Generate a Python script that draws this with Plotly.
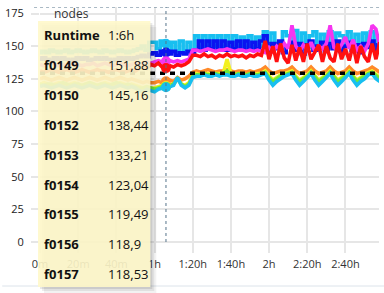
import plotly.graph_objects as go

# ---------------- data ----------------
minutes = list(range(0, 180, 2))          # time axis (minutes)
hover_minute = 66                          # 1:06h, hovered position
target_level = 129.2                       # black dashed reference level

x_tickvals = [0, 20, 40, 60, 80, 100, 120, 140, 160]
x_ticktext = ["0m", "20m", "40m", "1h", "1:20h", "1:40h", "2h", "2:20h", "2:40h"]
y_tickvals = [0, 25, 50, 75, 100, 125, 150, 175]

series_names = ["f0149", "f0150", "f0152", "f0153", "f0154", "f0155", "f0156", "f0157"]

f0149 = [145, 146, 145, 147, 146, 145, 146, 147, 145, 146, 147, 146, 145, 146, 147, 146, 145, 147, 146, 145,
         146, 147, 146, 145, 146, 147, 148, 150, 147, 153,
         153, 148, 154, 151.88, 146, 153, 146, 154, 146, 153, 147,
         158, 149, 158, 149, 158, 150, 158, 149, 158, 149, 158, 149, 157, 149, 158, 149, 157, 150,
         161, 150, 160, 152, 149, 161, 158, 150, 162, 151, 160, 149, 158, 161, 150, 159, 152, 161, 149, 160,
         158, 150, 161, 151, 159, 149, 160, 152, 161, 150, 158]
f0150 = [140, 141, 140, 139, 141, 140, 141, 140, 139, 140, 141, 140, 141, 139, 140, 141, 140, 141, 140, 139,
         140, 141, 140, 141, 140, 141, 142, 143, 142, 144,
         145, 143, 146, 145.16, 144, 146, 143, 145, 144, 146, 145,
         147, 154, 147, 154, 148, 154, 147, 154, 147, 153, 148, 154, 147, 154, 147, 153, 148, 154,
         158, 146, 152, 148, 154, 145, 150, 153, 147, 152, 144, 151, 154, 147, 150, 153, 146, 152, 148, 154,
         146, 150, 153, 147, 151, 145, 152, 149, 154, 147, 151]
f0152 = [136, 135, 136, 137, 136, 135, 136, 135, 136, 137, 136, 135, 136, 136, 137, 135, 136, 137, 136, 135,
         136, 137, 136, 135, 136, 137, 136, 137, 138, 137,
         138, 139, 138, 138.44, 139, 138, 139, 138, 139, 140, 147,
         147, 146, 147, 148, 147, 146, 147, 147, 148, 147, 146, 147, 147, 146, 147, 146, 147, 146,
         145, 149, 146, 150, 147, 152, 148, 166, 150, 146, 151, 147, 153, 146, 150, 148, 152, 166, 149, 147,
         151, 157, 148, 155, 147, 150, 146, 152, 166, 163, 150]
f0153 = [131, 130, 131, 132, 131, 130, 131, 132, 131, 130, 131, 132, 131, 130, 131, 132, 131, 131, 130, 131,
         132, 131, 130, 131, 132, 131, 133, 134, 133, 136,
         135, 137, 134, 133.21, 135, 134, 136, 135, 136, 138, 143,
         143, 142, 144, 142, 143, 141, 143, 142, 144, 142, 143, 142, 143, 141, 143, 142, 144, 143,
         154, 140, 150, 138, 152, 141, 137, 151, 139, 149, 138, 152, 140, 146, 151, 138, 150, 141, 138, 152,
         140, 148, 139, 151, 137, 150, 142, 138, 152, 140, 153]
f0154 = [125, 126, 125, 124, 125, 126, 125, 124, 125, 126, 125, 124, 125, 126, 125, 124, 125, 126, 125, 124,
         125, 126, 125, 124, 125, 124, 123, 122, 123, 122,
         122, 123, 122, 123.04, 124, 123, 126, 124, 125, 127, 130,
         131, 130, 131, 132, 131, 130, 131, 131, 132, 131, 130, 131, 131, 130, 131, 130, 131, 132,
         134, 131, 129, 130, 131, 131, 132, 134, 131, 129, 130, 131, 134, 131, 129, 130, 131, 134, 131, 129,
         130, 131, 134, 131, 129, 130, 131, 132, 134, 132, 130]
f0155 = [121, 122, 121, 120, 121, 122, 121, 120, 121, 122, 121, 120, 121, 122, 121, 120, 121, 122, 121, 120,
         121, 122, 121, 120, 121, 120, 119, 118, 119, 118,
         118, 119, 120, 119.49, 120, 121, 125, 121, 120, 122, 127,
         129, 128, 129, 129, 128, 129, 129, 129, 140, 129, 128, 129, 129, 128, 129, 128, 129, 129,
         131, 127, 124, 126, 128, 129, 130, 131, 127, 124, 126, 128, 131, 127, 124, 126, 128, 131, 127, 124,
         126, 128, 131, 127, 124, 126, 128, 130, 131, 128, 126]
f0156 = [121, 120, 121, 121, 120, 121, 122, 121, 120, 121, 121, 120, 121, 122, 121, 120, 121, 121, 120, 121,
         122, 121, 120, 121, 120, 119, 118, 118, 119, 118,
         117, 118, 119, 118.9, 120, 121, 125, 121, 119, 121, 127,
         128, 128, 129, 128, 128, 129, 128, 129, 131, 128, 128, 129, 128, 128, 129, 128, 128, 129,
         130, 126, 123, 125, 127, 128, 129, 130, 126, 123, 125, 127, 130, 126, 123, 125, 127, 130, 126, 123,
         125, 127, 130, 126, 123, 125, 127, 129, 130, 127, 125]
f0157 = [119, 120, 119, 118, 119, 120, 119, 118, 119, 120, 119, 118, 119, 120, 119, 118, 119, 120, 119, 118,
         119, 120, 119, 118, 119, 118, 116, 115, 117, 116,
         115, 117, 118, 118.53, 119, 120, 126, 120, 118, 120, 126,
         127, 127, 128, 127, 127, 128, 127, 128, 128, 127, 127, 128, 127, 127, 128, 127, 127, 128,
         129, 124, 120, 123, 125, 127, 128, 129, 124, 120, 123, 126, 129, 124, 120, 123, 126, 129, 124, 120,
         123, 126, 129, 124, 120, 123, 125, 128, 129, 125, 123]

series_values = [f0149, f0150, f0152, f0153, f0154, f0155, f0156, f0157]
series_colors = ["#18bff0", "#0a14f0", "#f535f0", "#ff1010", "#ff8a2a", "#f2f020", "#6ee83a", "#18bff0"]
series_shapes = ["hvh", "hvh", "linear", "linear", "linear", "linear", "linear", "linear"]

# ---------------- layout geometry (pixels) ----------------
W, H = 384, 293
ML, MR, MT, MB = 38, 5, 7, 51
PW, PH = W - ML - MR, H - MT - MB
X_RANGE = [0, 177.6]
Y_RANGE = [0, 180]


def px(xp):
    return (xp - ML) / PW


def py(yp):
    return (H - MB - yp) / PH


FONT = "Open Sans"
fig = go.Figure()

hover_idx = minutes.index(hover_minute)
for name, vals, col, shp in zip(series_names, series_values, series_colors, series_shapes):
    fig.add_trace(go.Scatter(x=minutes, y=vals, mode="lines", name=name,
                             line=dict(color=col, width=3.6, shape=shp), showlegend=False))

# reference dashed line
fig.add_trace(go.Scatter(x=[minutes[0], minutes[-1]], y=[target_level, target_level], mode="lines",
                         line=dict(color="#000000", width=3.5, dash="5px,5px"), showlegend=False))

# hover markers
for name, vals, col in zip(series_names, series_values, series_colors):
    fig.add_trace(go.Scatter(x=[minutes[hover_idx]], y=[vals[hover_idx]], mode="markers",
                             marker=dict(color=col, size=10), showlegend=False))

shapes = []
# crosshair lines
shapes.append(dict(type="line", xref="x", yref="y", x0=hover_minute, x1=hover_minute, y0=0, y1=Y_RANGE[1],
                   line=dict(color="#56748a", width=1, dash="3px,3px"), layer="above"))
shapes.append(dict(type="line", xref="paper", yref="y", x0=px(32), x1=px(381), y0=Y_RANGE[1], y1=Y_RANGE[1],
                   line=dict(color="#56748a", width=1, dash="3px,3px"), layer="above"))
# bottom border line
shapes.append(dict(type="line", xref="paper", yref="paper", x0=px(0), x1=px(384), y0=py(286), y1=py(286),
                   line=dict(color="#dce3ea", width=1), layer="above"))

# tooltip shadow + box
tx0, tx1, ty0, ty1 = 36, 149, 21, 287
for off, a in [(6, 0.05), (4, 0.07), (2, 0.09)]:
    shapes.append(dict(type="rect", xref="paper", yref="paper", x0=px(tx0 + off), x1=px(tx1 + off),
                       y0=py(ty1 + off), y1=py(ty0 + off), line=dict(width=0),
                       fillcolor=f"rgba(0,0,0,{a})", layer="above"))
shapes.append(dict(type="rect", xref="paper", yref="paper", x0=px(tx0), x1=px(tx1), y0=py(ty1), y1=py(ty0),
                   line=dict(width=0), fillcolor="rgba(255,248,202,0.9)", layer="above"))

annotations = []
row_y0, row_step = 35, 29.9
name_x, val_x = 40, 104


def add_text(txt, xp, yp, bold=False, size=13, color="#111"):
    annotations.append(dict(text=f"<b>{txt}</b>" if bold else txt, xref="paper", yref="paper",
                            x=px(xp), y=py(yp), xanchor="left", yanchor="middle", showarrow=False,
                            font=dict(family=FONT, size=size, color=color)))


h = hover_minute
add_text("Runtime", name_x, row_y0, bold=True)
add_text(f"{h // 60}:{h % 60}h", val_x, row_y0)
for k, (name, vals) in enumerate(zip(series_names, series_values)):
    yrow = row_y0 + row_step * (k + 1)
    add_text(name, name_x, yrow, bold=True)
    add_text(f"{vals[hover_idx]:g}".replace(".", ","), val_x, yrow)

# y-axis title at top
annotations.append(dict(text="nodes", xref="paper", yref="paper", x=px(50), y=py(13), xanchor="left",
                        yanchor="middle", showarrow=False, font=dict(family=FONT, size=12, color="#333")))

fig.update_layout(
    width=W, height=H, margin=dict(l=ML, r=MR, t=MT, b=MB, pad=0),
    paper_bgcolor="white", plot_bgcolor="white",
    shapes=shapes, annotations=annotations, showlegend=False,
    font=dict(family=FONT, size=11, color="#333"),
    xaxis=dict(range=X_RANGE, tickvals=x_tickvals, ticktext=x_ticktext, showgrid=True,
               gridcolor="#e6e6e6", gridwidth=2, ticks="outside", ticklen=10, tickwidth=2,
               tickcolor="#e6e6e6", zeroline=False, showline=False, ticklabelstandoff=2,
               tickfont=dict(family=FONT, size=11, color="#333")),
    yaxis=dict(range=Y_RANGE, tickvals=y_tickvals, showgrid=True, gridcolor="#e6e6e6", gridwidth=2,
               ticks="outside", ticklen=8, tickwidth=2, tickcolor="#e6e6e6", ticklabelstandoff=5,
               zeroline=True, zerolinecolor="#e6e6e6", zerolinewidth=2, showline=False,
               tickfont=dict(family=FONT, size=11, color="#222")),
)

fig.write_html("out.html")
